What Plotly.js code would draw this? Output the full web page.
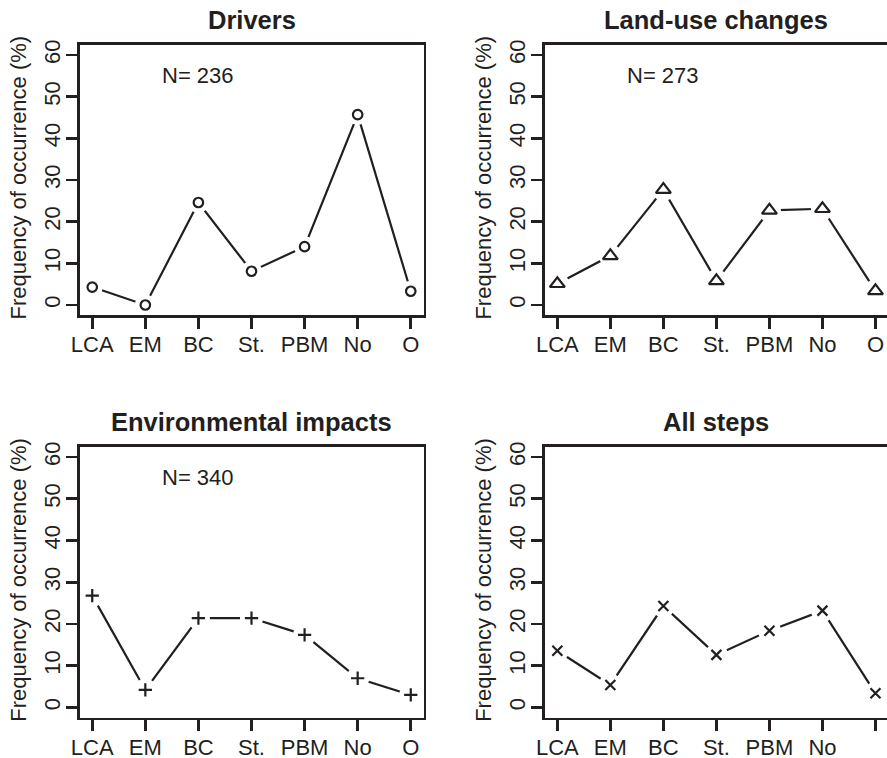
<!DOCTYPE html>
<html><head><meta charset="utf-8">
<script src="https://cdn.plot.ly/plotly-3.0.1.min.js"></script>
<style>html,body{margin:0;padding:0;overflow:hidden;background:#fff;width:887px;height:758px}#chart{width:900px;height:758px}</style>
</head><body><div id="chart"></div>
<script>
const categories = ['LCA','EM','BC','St.','PBM','No','O'];
const drivers = [4.3, 0, 24.6, 8.1, 14.0, 45.7, 3.3];
const landUse = [5.1, 11.8, 27.7, 5.8, 22.7, 23.1, 3.4];
const envImpacts = [26.8, 4.2, 21.4, 21.4, 17.4, 7.0, 3.0];
const allSteps = [13.6, 5.4, 24.3, 12.6, 18.4, 23.2, 3.4];
const panelTitles = ['Drivers', 'Land-use changes', 'Environmental impacts', 'All steps'];
const sampleSizes = ['N= 236', 'N= 273', 'N= 340', ''];
const yTickVals = [0, 10, 20, 30, 40, 50, 60];
const xTickTexts = [categories, categories, categories, ['LCA','EM','BC','St.','PBM','No','']];
const yTitle = 'Frequency of occurrence (%)';

const series = [drivers, landUse, envImpacts, allSteps];
const symbols = ['circle-open', 'triangle-up-open', 'cross-thin-open', 'x-thin-open'];
const symSizes = [9.5, 13, 9.5, 10];
const maskSizes = [21, 23, 23, 23];

const INK = '#231f20';
const FONT = 'Liberation Sans, Arial, Helvetica, sans-serif';
const W = 900, H = 758;
const boxes = [
  {x0: 79.5, x1: 423.5, y0: 45, y1: 315},
  {x0: 544.6, x1: 888.2, y0: 45, y1: 315},
  {x0: 79.5, x1: 423.5, y0: 447, y1: 717.5},
  {x0: 544.6, x1: 888.2, y0: 447, y1: 717.5}
];

const traces = [];
const layout = {
  width: W, height: H,
  margin: {l: 0, r: 0, t: 0, b: 0},
  paper_bgcolor: '#fff', plot_bgcolor: '#fff',
  showlegend: false,
  font: {family: FONT, size: 22, color: INK},
  annotations: []
};

series.forEach((vals, i) => {
  const n = i + 1;
  const xa = 'x' + (n === 1 ? '' : n), ya = 'y' + (n === 1 ? '' : n);
  const b = boxes[i];
  traces.push({x: categories, y: vals, xaxis: xa, yaxis: ya, mode: 'lines',
    line: {color: INK, width: 2.2}, hoverinfo: 'skip', cliponaxis: false});
  traces.push({x: categories, y: vals, xaxis: xa, yaxis: ya, mode: 'markers',
    marker: {symbol: 'circle', size: maskSizes[i], color: '#fff', line: {width: 0}},
    hoverinfo: 'skip', cliponaxis: false});
  traces.push({x: categories, y: vals, xaxis: xa, yaxis: ya, mode: 'markers',
    marker: {symbol: symbols[i], size: symSizes[i], color: INK, line: {color: INK, width: 2.2}},
    cliponaxis: false});

  const common = {showline: true, mirror: true, linecolor: INK, linewidth: 2.6,
    ticks: 'outside', ticklen: 11, tickwidth: 2.6, tickcolor: INK,
    showgrid: false, zeroline: false, fixedrange: true, ticklabelstandoff: -3,
    tickfont: {family: FONT, size: 22, color: INK}};
  layout['xaxis' + (n === 1 ? '' : n)] = Object.assign({}, common, {
    domain: [b.x0 / W, b.x1 / W], anchor: ya, type: 'category',
    range: [-0.24, 6.24], tickmode: 'array', tickvals: categories, ticktext: xTickTexts[i]
  });
  layout['yaxis' + (n === 1 ? '' : n)] = Object.assign({}, common, {
    domain: [1 - b.y1 / H, 1 - b.y0 / H], anchor: xa,
    range: [-2.4, 62.4], tickmode: 'array', tickvals: yTickVals, tickangle: -90
  });

  layout.annotations.push({xref: 'paper', yref: 'paper',
    x: ((b.x0 + b.x1) / 2) / W, y: 1 - (b.y0 - 25) / H,
    text: '<b>' + panelTitles[i] + '</b>', showarrow: false,
    font: {family: FONT, size: 25.5, color: INK}, xanchor: 'center', yanchor: 'middle'});
  layout.annotations.push({xref: 'paper', yref: 'paper',
    x: (b.x0 - 61) / W, y: 1 - ((b.y0 + b.y1) / 2 - 2) / H,
    text: yTitle, textangle: -90, showarrow: false,
    font: {family: FONT, size: 22, color: INK}, xanchor: 'center', yanchor: 'middle'});
  if (sampleSizes[i]) {
    layout.annotations.push({xref: xa, yref: ya, x: 2, y: 55,
      text: sampleSizes[i], showarrow: false,
      font: {family: FONT, size: 22, color: INK}, xanchor: 'center', yanchor: 'middle'});
  }
});

Plotly.newPlot('chart', traces, layout, {staticPlot: true, displayModeBar: false});
</script></body></html>
